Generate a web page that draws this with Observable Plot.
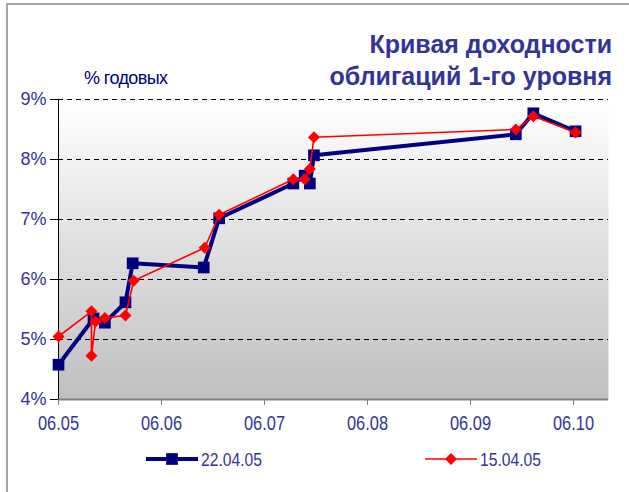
<!DOCTYPE html>
<html>
<head>
<meta charset="utf-8">
<script src="https://cdn.jsdelivr.net/npm/d3@7"></script>
<script src="https://cdn.jsdelivr.net/npm/@observablehq/plot@0.6"></script>
<style>
  html, body { margin: 0; padding: 0; background: #fff; }
  #wrap { position: relative; width: 629px; height: 492px; overflow: hidden; font-family: "Liberation Sans", Arial, sans-serif; }
  #frame { position: absolute; left: 6px; top: 3px; width: 700px; height: 600px; border-left: 2px solid #a6a6a6; border-top: 2px solid #a6a6a6; box-sizing: border-box; }
  #title { position: absolute; right: 17px; top: 28px; text-align: right; font-weight: bold; font-size: 25px; line-height: 32px; color: #333399; }
  #unit { position: absolute; left: 84px; top: 68px; font-size: 18px; letter-spacing: -0.6px; color: #000080; }
  .leg { position: absolute; top: 447px; }
  #chart { position: absolute; left: 0; top: 0; }
</style>
</head>
<body>
<div id="wrap">
  <div id="frame"></div>
  <div id="chart"></div>
  <div id="title">Кривая доходности<br>облигаций 1-го уровня</div>
  <div id="unit">% годовых</div>
  <div class="leg" id="leg1" style="left:145px;"></div>
  <div class="leg" id="leg2" style="left:424px;"></div>
</div>
<script>
// Time to maturity in months (5 = "06.05", 6 = "06.06", ...)
const seriesA_name = "22.04.05";
const seriesA_x = [5.00, 5.34, 5.45, 5.65, 5.72, 6.41, 6.56, 7.28, 7.39, 7.44, 7.48, 9.44, 9.61, 10.02];
const seriesA_y = [4.58, 5.35, 5.28, 5.62, 6.27, 6.20, 7.02, 7.60, 7.73, 7.60, 8.07, 8.42, 8.77, 8.47];

const seriesB_name = "15.04.05";
const seriesB_x = [5.00, 5.32, 5.32, 5.36, 5.45, 5.65, 5.73, 6.42, 6.56, 7.28, 7.39, 7.44, 7.48, 9.44, 9.61, 10.02];
const seriesB_y = [5.05, 5.47, 4.73, 5.30, 5.36, 5.40, 5.98, 6.53, 7.08, 7.67, 7.67, 7.84, 8.37, 8.50, 8.72, 8.45];

const xTicks = [5, 6, 7, 8, 9, 10];
const xTickLabels = ["06.05", "06.06", "06.07", "06.08", "06.09", "06.10"];
const yTicks = [4, 5, 6, 7, 8, 9];
const yGrid = [5, 6, 7, 8, 9];

const A = seriesA_x.map((x, i) => ({x, y: seriesA_y[i]}));
const B = seriesB_x.map((x, i) => ({x, y: seriesB_y[i]}));

const navy = "#000080", red = "#ff0000", txt = "#333399";

const chart = Plot.plot({
  width: 629,
  height: 492,
  marginLeft: 58,
  marginRight: 21,
  marginTop: 99,
  marginBottom: 93,
  style: {fontFamily: "'Liberation Sans', Arial, sans-serif", background: "transparent", overflow: "visible"},
  x: {domain: [5, 5 + 550 / 103], label: null},
  y: {domain: [4, 9], label: null},
  marks: [
    Plot.frame({fill: "url(#bgGrad)", stroke: "none"}),
    Plot.ruleY(yGrid, {stroke: "#000", strokeWidth: 1, strokeDasharray: "5,4"}),
    Plot.ruleY([4], {stroke: "#808080", strokeWidth: 2}),
    Plot.ruleX([5], {stroke: "#000", strokeWidth: 1}),
    Plot.axisY({ticks: yTicks, label: null, tickSize: 8, tickPadding: 4, stroke: "#000", fill: txt, fontSize: 18,
      tickFormat: d => d + "%"}),
    Plot.axisX({ticks: xTicks, label: null, tickSize: 6, tickPadding: 10, stroke: "#808080", fill: txt, fontSize: 20,
      tickFormat: d => xTickLabels[xTicks.indexOf(d)]}),
    Plot.line(A, {x: "x", y: "y", stroke: navy, strokeWidth: 4, strokeLinejoin: "miter"}),
    Plot.dot(A, {x: "x", y: "y", symbol: "square", r: 6.6, fill: navy, stroke: "none"}),
    Plot.line(B, {x: "x", y: "y", stroke: red, strokeWidth: 1.6}),
    Plot.dot(B, {x: "x", y: "y", symbol: "diamond2", r: 5.4, fill: red, stroke: "none"})
  ]
});

const defs = d3.select(chart).insert("defs", ":first-child");
const g = defs.append("linearGradient").attr("id", "bgGrad")
  .attr("x1", 0).attr("y1", 0).attr("x2", 0).attr("y2", 1);
g.append("stop").attr("offset", "0%").attr("stop-color", "#ffffff");
g.append("stop").attr("offset", "100%").attr("stop-color", "#bfbfbf");

// condensed look of the tick labels
d3.select(chart).selectAll('g[aria-label="x-axis tick label"] text')
  .attr("textLength", 41).attr("lengthAdjust", "spacingAndGlyphs");

document.getElementById("chart").appendChild(chart);

function legend(el, name, color, lw, symbol, size) {
  const s = d3.select(el).append("svg").attr("width", 130).attr("height", 24);
  s.append("line").attr("x1", 1).attr("x2", 53).attr("y1", 12).attr("y2", 12)
    .attr("stroke", color).attr("stroke-width", lw);
  s.append("path").attr("transform", "translate(27,12)")
    .attr("d", d3.symbol(symbol, size)()).attr("fill", color);
  s.append("text").attr("x", 56).attr("y", 12).attr("dy", "0.35em")
    .attr("font-family", "'Liberation Sans', Arial, sans-serif").attr("font-size", 19)
    .attr("fill", txt).attr("textLength", 61).attr("lengthAdjust", "spacingAndGlyphs")
    .text(name);
}
legend(document.getElementById("leg1"), seriesA_name, navy, 4, d3.symbolSquare, 137);
legend(document.getElementById("leg2"), seriesB_name, red, 1.6, d3.symbolDiamond2, 92);
</script>
</body>
</html>
